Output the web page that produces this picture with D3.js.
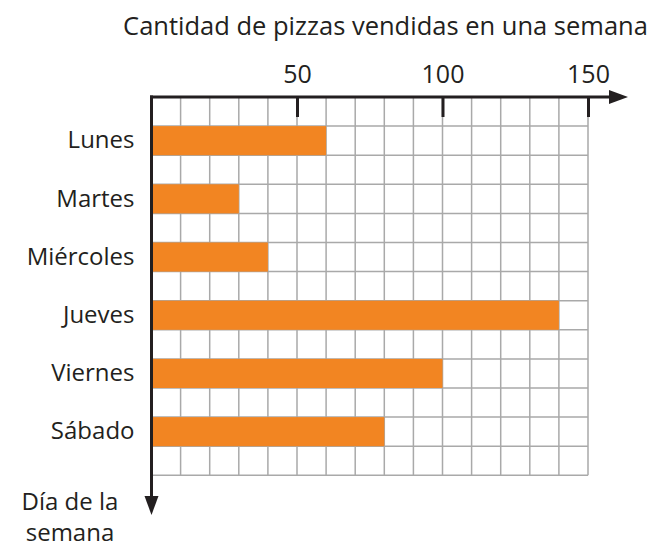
<!DOCTYPE html>
<html>
<head>
<meta charset="utf-8">
<script src="https://cdn.jsdelivr.net/npm/d3@7/dist/d3.min.js"></script>
<style>
  html, body { margin: 0; padding: 0; background: #fff; }
  svg { display: block; }
  text { font-family: "Open Sans", "Lato", sans-serif; fill: #231f20; }
</style>
</head>
<body>
<script>
// Pizzas sold per weekday
const days = ["Lunes", "Martes", "Miércoles", "Jueves", "Viernes", "Sábado"];
const pizzas = [60, 30, 40, 140, 100, 80];
const tickValues = [50, 100, 150];
const xTitle = "Cantidad de pizzas vendidas en una semana";
const yTitle = ["Día de la", "semana"];

const W = 665, H = 549;
const gLeft = 151.5, gTop = 97;
const cell = 29.1;          // one grid square
const cols = 15, rows = 13;
const font = "'Open Sans', Lato, sans-serif";

const svg = d3.select("body").append("svg")
  .attr("width", W).attr("height", H);

const x = d3.scaleLinear().domain([0, 150]).range([gLeft, gLeft + cols * cell]);
const y = d3.scaleBand().domain(days)
  .range([gTop, gTop + rows * cell])
  .paddingInner(0.5).paddingOuter(0.5);

// grid
const grid = svg.append("g").attr("stroke", "#a9a9a9").attr("stroke-width", 1.5);
grid.selectAll("line.v").data(d3.range(10, 151, 10)).join("line")
  .attr("class", "v")
  .attr("x1", d => x(d)).attr("x2", d => x(d))
  .attr("y1", gTop).attr("y2", gTop + rows * cell);
grid.selectAll("line.h").data(d3.range(1, rows + 1)).join("line")
  .attr("class", "h")
  .attr("x1", gLeft).attr("x2", x(150))
  .attr("y1", d => gTop + d * cell).attr("y2", d => gTop + d * cell);

// bars
svg.append("g").selectAll("rect").data(days).join("rect")
  .attr("x", x(0))
  .attr("y", d => y(d))
  .attr("width", (d, i) => x(pizzas[i]) - x(0))
  .attr("height", y.bandwidth())
  .attr("fill", "#f28522");

// top axis with ticks pointing down into the grid
const xAxis = d3.axisTop(x).tickValues(tickValues).tickSizeInner(-20).tickSizeOuter(0).tickPadding(14);
const gx = svg.append("g").attr("transform", `translate(0,${gTop})`).call(xAxis);
gx.select(".domain").remove();
gx.selectAll(".tick line").attr("stroke", "#231f20").attr("stroke-width", 3);
gx.selectAll(".tick text").attr("font-size", 25).attr("font-family", font).attr("fill", "#231f20");

// axis arrows
const axisColor = "#231f20";
svg.append("line").attr("x1", gLeft - 1.5).attr("x2", 612).attr("y1", gTop).attr("y2", gTop)
  .attr("stroke", axisColor).attr("stroke-width", 3);
svg.append("path").attr("d", `M609,${gTop - 7}L628,${gTop}L609,${gTop + 7}Z`).attr("fill", axisColor);
svg.append("line").attr("x1", gLeft).attr("x2", gLeft).attr("y1", gTop - 1.5).attr("y2", 499)
  .attr("stroke", axisColor).attr("stroke-width", 3);
svg.append("path").attr("d", `M${gLeft - 7},496L${gLeft},515L${gLeft + 7},496Z`).attr("fill", axisColor);

// category labels
const yAxis = d3.axisLeft(y).tickSize(0).tickPadding(17);
const gy = svg.append("g").attr("transform", `translate(${gLeft},0)`).call(yAxis);
gy.select(".domain").remove();
gy.selectAll(".tick text").attr("font-size", 24).attr("font-family", font).attr("fill", "#231f20");

// titles
svg.append("text").attr("x", 385.5).attr("y", 35).attr("text-anchor", "middle")
  .attr("font-size", 25.5).text(xTitle);
svg.append("text").attr("text-anchor", "middle").attr("font-size", 24)
  .selectAll("tspan").data(yTitle).join("tspan")
  .attr("x", 70).attr("y", (d, i) => 510 + i * 31).text(d => d);
</script>
</body>
</html>
